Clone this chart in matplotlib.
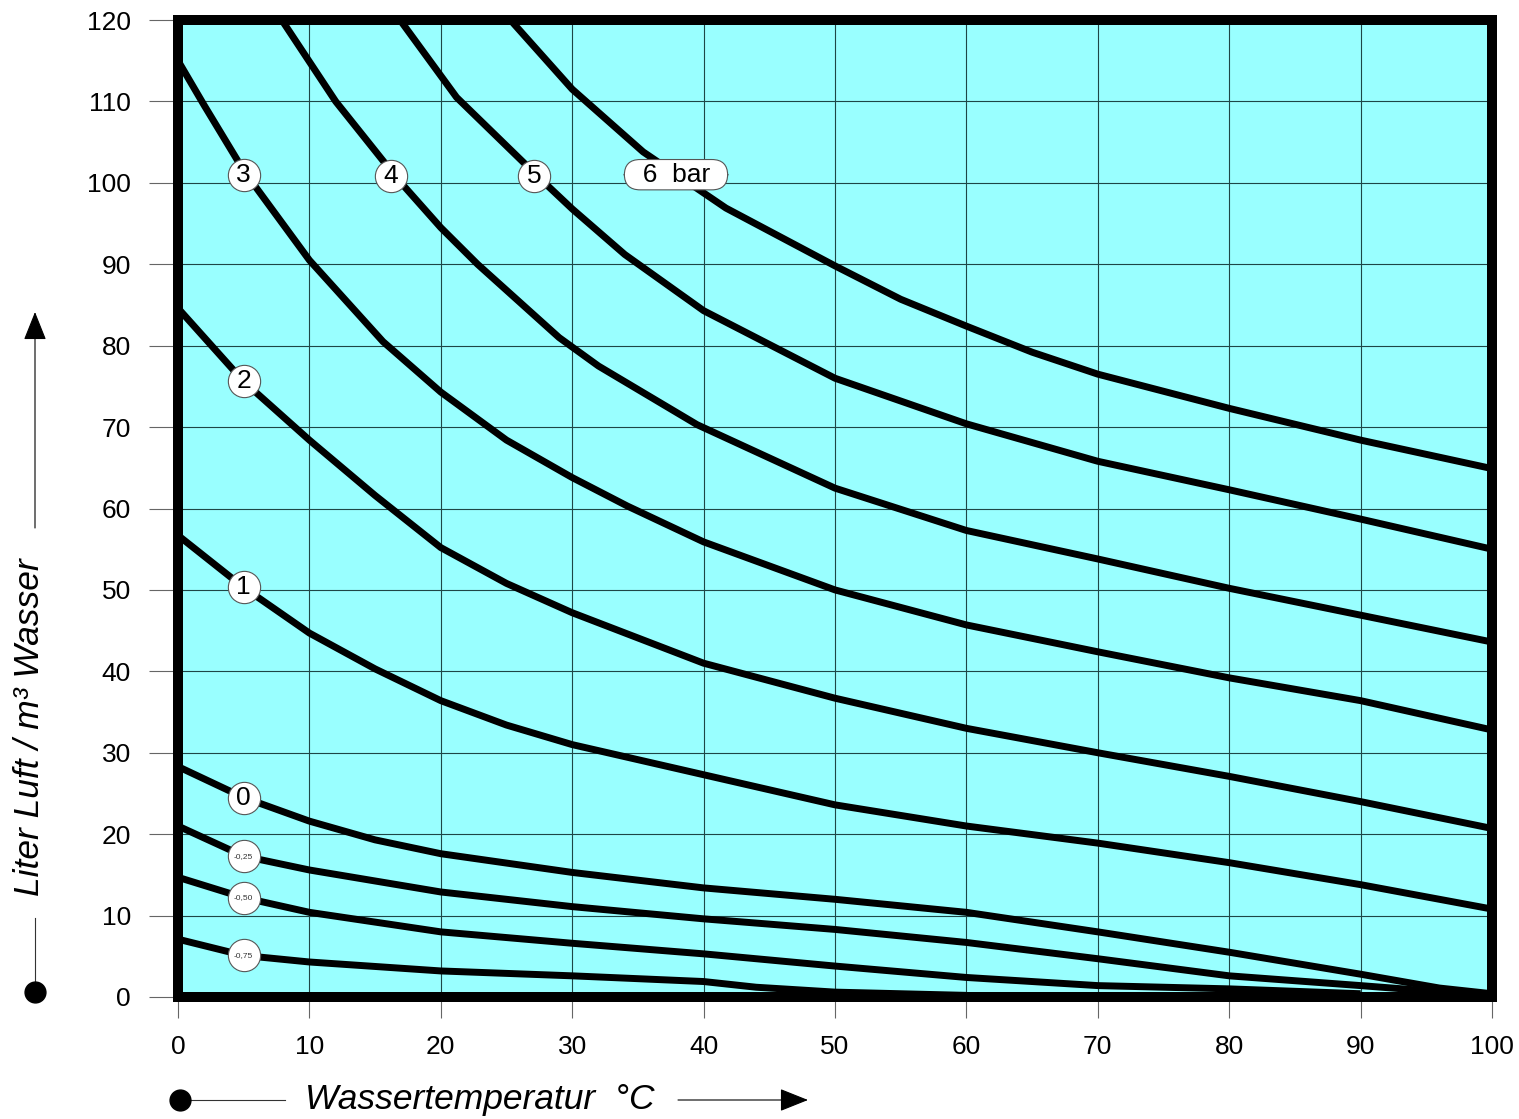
import matplotlib
matplotlib.use("Agg")
import matplotlib.pyplot as plt

plt.rcParams['font.family'] = ['Liberation Sans', 'DejaVu Sans']

# Wassertemperatur (x) und Liter Luft / m3 Wasser (y), je Druckkurve
t_6 = [25.3, 30, 35.4, 41.7, 50, 55, 60, 65, 70, 80, 90, 100]
v_6 = [120, 111.5, 103.8, 96.9, 89.8, 85.7, 82.4, 79.2, 76.5, 72.3, 68.4, 64.9]

t_5 = [16.9, 21.2, 27.7, 30, 34, 40, 50, 60, 70, 80, 90, 100]
v_5 = [120, 110.5, 100.3, 96.8, 91.2, 84.3, 76, 70.4, 65.8, 62.3, 58.7, 55]

t_4 = [7.9, 12, 16.7, 20, 22.8, 29, 32, 39.5, 50, 60, 70, 80, 90, 100]
v_4 = [120, 110, 100.5, 94.5, 90, 81, 77.5, 70.3, 62.5, 57.3, 53.8, 50.2, 46.9, 43.6]

t_3 = [0, 2, 5, 10, 15.6, 20, 25, 30, 34.2, 40, 50, 60, 70, 80, 90, 100]
v_3 = [115, 109.5, 101.5, 90.5, 80.5, 74.3, 68.4, 63.8, 60.3, 55.9, 50, 45.7, 42.4, 39.2, 36.4, 32.8]

t_2 = [0, 5, 10, 15, 20, 25, 30, 40, 50, 60, 70, 80, 90, 100]
v_2 = [84.6, 75.6, 68.4, 61.6, 55.2, 50.8, 47.2, 41, 36.7, 33, 30, 27.1, 24, 20.7]

t_1 = [0, 5, 10, 15, 20, 25, 30, 40, 50, 60, 70, 80, 90, 100]
v_1 = [56.7, 50.3, 44.7, 40.3, 36.4, 33.4, 31, 27.3, 23.6, 21, 18.9, 16.5, 13.8, 10.8]

t_0 = [0, 5, 10, 15, 20, 30, 40, 50, 60, 70, 80, 90, 96, 100]
v_0 = [28.3, 24.5, 21.6, 19.3, 17.6, 15.3, 13.4, 12, 10.4, 8, 5.5, 2.8, 1.1, 0.4]

t_m25 = [0, 5, 10, 20, 30, 40, 50, 60, 70, 80, 90, 94, 100]
v_m25 = [21, 17.3, 15.6, 12.9, 11.1, 9.6, 8.3, 6.7, 4.7, 2.6, 1.4, 0.9, 0.2]

t_m50 = [0, 5, 10, 20, 30, 40, 50, 60, 70, 80, 90]
v_m50 = [14.7, 12.2, 10.4, 8, 6.6, 5.3, 3.8, 2.4, 1.4, 1.0, 0.4]

t_m75 = [0, 5, 10, 20, 30, 40, 44, 50, 60]
v_m75 = [7.1, 5.1, 4.3, 3.2, 2.6, 1.9, 1.2, 0.6, 0.2]

kurven = [(t_6, v_6), (t_5, v_5), (t_4, v_4), (t_3, v_3), (t_2, v_2),
          (t_1, v_1), (t_0, v_0), (t_m25, v_m25), (t_m50, v_m50), (t_m75, v_m75)]

# Beschriftungen der Kurven
lab_text = ['5', '4', '3', '2', '1', '0', '-0,25', '-0,50', '-0,75']
lab_x = [27.1, 16.2, 5, 5, 5, 5, 5, 5, 5]
lab_y = [100.9, 100.8, 101, 75.7, 50.3, 24.5, 17.3, 12.2, 5.1]
lab_size = [19, 19, 19, 19, 19, 19, 6, 6, 6]

xticks = list(range(0, 101, 10))
yticks = list(range(0, 121, 10))

W, H = 1519, 1119
fig = plt.figure(figsize=(W / 100, H / 100), dpi=100)
ax = fig.add_axes([178 / W, 1 - 997 / H, (1492 - 178) / W, (997 - 20) / H])
ax.set_facecolor('#99ffff')
ax.set_xlim(0, 100)
ax.set_ylim(0, 120)
ax.set_xticks(xticks)
ax.set_yticks(yticks)
ax.grid(True, color='#1e4646', lw=0.8)
ax.set_axisbelow(True)

for t, v in kurven:
    ax.plot(t, v, color='black', lw=5, solid_joinstyle='round', solid_capstyle='butt', zorder=3)

ax.scatter(lab_x, lab_y, s=540, facecolor='white', edgecolor='#555555', lw=0.8, zorder=4)
for txt, x, y, fs in zip(lab_text, lab_x, lab_y, lab_size):
    ax.text(x, y, txt, fontsize=fs, ha='center', va='center', zorder=5,
            color='black' if fs > 10 else '#333333')
ax.text(37.9, 101, '  6  bar  ', fontsize=19, ha='center', va='center', zorder=5,
        bbox=dict(boxstyle='round,pad=0.12,rounding_size=0.6', fc='white', ec='#555555', lw=0.8))

for s in ax.spines.values():
    s.set_linewidth(7.2)
    s.set_capstyle('projecting')
ax.tick_params(axis='y', length=21, width=0.8, color='#666666', pad=13, labelsize=19)
ax.tick_params(axis='x', length=15, width=0.8, color='#666666', pad=12, labelsize=19)

# Achsenbeschriftungen mit Pfeilen (Pixelkoordinaten)
ov = fig.add_axes([0, 0, 1, 1], zorder=-1)
ov.set_xlim(0, W)
ov.set_ylim(H, 0)
ov.axis('off')

ov.text(30, 727, 'Liter Luft / m³ Wasser', rotation=90, style='italic', fontsize=25.5,
        ha='center', va='center')
ov.plot([35, 35], [918, 985], color='#333333', lw=0.8)
ov.plot([35], [992], 'o', color='black', ms=15)
ov.annotate('', xy=(35, 312), xytext=(35, 528),
            arrowprops=dict(arrowstyle='-|>,head_length=1.0,head_width=0.4',
                            mutation_scale=18, color='black', lw=0.8, shrinkA=0, shrinkB=0))

ov.text(305, 1100, 'Wassertemperatur  °C', style='italic', fontsize=25.5, ha='left', va='center')
ov.plot([180, 285], [1100, 1100], color='#333333', lw=0.8)
ov.plot([180], [1100], 'o', color='black', ms=15)
ov.annotate('', xy=(808, 1100), xytext=(678, 1100),
            arrowprops=dict(arrowstyle='-|>,head_length=1.0,head_width=0.4',
                            mutation_scale=18, color='black', lw=0.8, shrinkA=0, shrinkB=0))

fig.savefig('out.png', dpi=100)
